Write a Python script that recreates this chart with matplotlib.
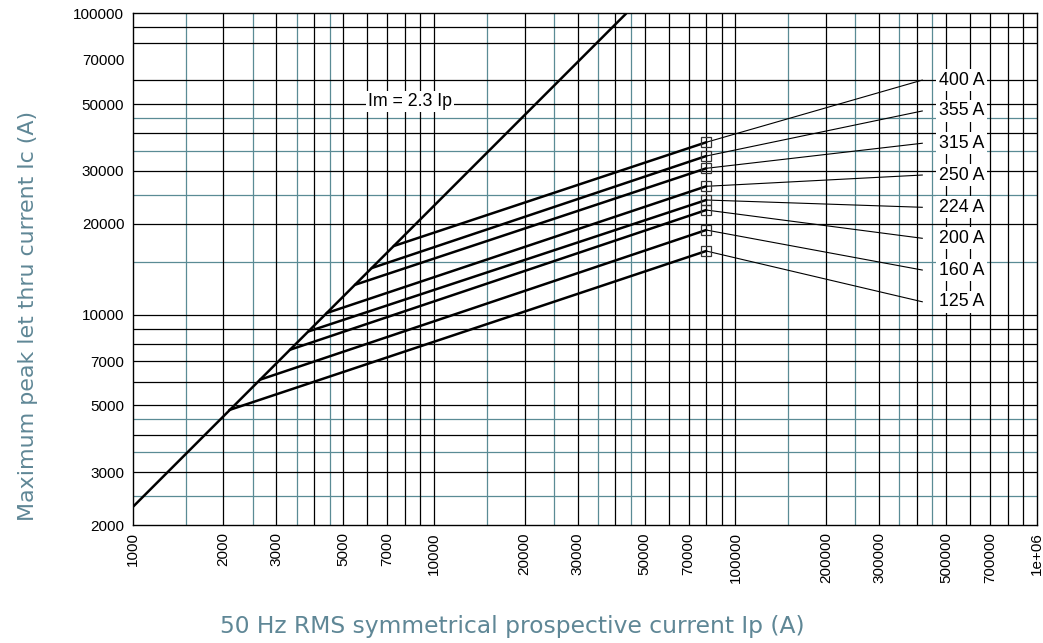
import matplotlib
matplotlib.use('Agg')
import matplotlib.pyplot as plt
from matplotlib.ticker import FixedLocator, FixedFormatter, NullLocator

# ---- data ----
ratings = ['125 A', '160 A', '200 A', '224 A', '250 A', '315 A', '355 A', '400 A']
knee_ip = [2093, 2645, 3327, 3828, 4405, 5467, 6210, 7350]
knee_ic = [4830, 6087, 7653, 8800, 10130, 12570, 14280, 16900]
end_ip = [80000] * 8
end_ic = [16270, 19100, 22250, 24020, 26670, 30600, 33610, 37330]
label_ic = [11040, 14070, 17930, 22720, 29070, 37060, 47420, 60040]
leader_ip = 417000
label_ip = 563000

im_ip = [1000, 43478]
im_ic = [2300, 100000]
im_label = 'Im = 2.3 Ip'
im_label_pos = (8300, 51000)

x_ticks = [1000, 2000, 3000, 5000, 7000, 10000, 20000, 30000, 50000, 70000,
           100000, 200000, 300000, 500000, 700000, 1000000]
x_ticklabels = ['1000', '2000', '3000', '5000', '7000', '10000', '20000', '30000',
                '50000', '70000', '100000', '200000', '300000', '500000', '700000', '1e+06']
y_ticks = [2000, 3000, 5000, 7000, 10000, 20000, 30000, 50000, 70000, 100000]
y_ticklabels = [str(v) for v in y_ticks]

x_grid_black = [2000, 3000, 4000, 5000, 6000, 7000, 8000, 9000, 10000,
                20000, 30000, 40000, 50000, 60000, 70000, 80000, 90000, 100000,
                200000, 300000, 400000, 500000, 600000, 700000, 800000, 900000]
x_grid_teal = [1500, 2500, 3500, 4500, 15000, 25000, 35000, 45000,
               150000, 250000, 350000, 450000]
y_grid_black = [3000, 4000, 5000, 6000, 7000, 8000, 9000, 10000,
                20000, 30000, 40000, 50000, 60000, 80000, 90000]
y_grid_teal = [2500, 3500, 4500, 15000, 25000, 35000, 45000]

xlabel = '50 Hz RMS symmetrical prospective current Ip (A)'
ylabel = 'Maximum peak let thru current Ic (A)'

# ---- style ----
TEAL = '#5a8b95'
LABEL_COL = '#5f8796'
plt.rcParams['font.family'] = ['Liberation Sans', 'DejaVu Sans']

fig = plt.figure(figsize=(10.43, 6.43), dpi=100)
ax = fig.add_axes([0.1272, 0.1829, 0.8668, 0.7964])
ax.set_xscale('log')
ax.set_yscale('log')
ax.set_xlim(1000, 1000000)
ax.set_ylim(2000, 100000)

for v in x_grid_teal:
    ax.axvline(v, color=TEAL, lw=0.9, zorder=1)
for v in y_grid_teal:
    ax.axhline(v, color=TEAL, lw=0.9, zorder=1)
for v in x_grid_black:
    ax.axvline(v, color='black', lw=0.9, zorder=1.1)
for v in y_grid_black:
    ax.axhline(v, color='black', lw=0.9, zorder=1.1)

# Im line
ax.plot(im_ip, im_ic, color='black', lw=1.8, zorder=3, solid_capstyle='butt')
ax.text(im_label_pos[0], im_label_pos[1], im_label, ha='center', va='center',
        fontsize=12.8, zorder=5,
        bbox=dict(facecolor='white', edgecolor='none', pad=1.5))

# fuse curves
for i in range(len(ratings)):
    ax.plot([knee_ip[i], end_ip[i]], [knee_ic[i], end_ic[i]], color='black',
            lw=1.8, zorder=3, solid_capstyle='round')
    ax.plot([end_ip[i], leader_ip], [end_ic[i], label_ic[i]], color='black',
            lw=0.8, zorder=3)
    ax.plot([end_ip[i]], [end_ic[i]], marker='s', ms=6.8, mfc='none',
            mec='#333333', mew=0.9, zorder=4)
    ax.text(label_ip, label_ic[i], ratings[i], ha='center', va='center',
            fontsize=12.8, zorder=5,
            bbox=dict(facecolor='white', edgecolor='none', pad=1.8))

ax.xaxis.set_major_locator(FixedLocator(x_ticks))
ax.xaxis.set_major_formatter(FixedFormatter(x_ticklabels))
ax.xaxis.set_minor_locator(NullLocator())
ax.yaxis.set_major_locator(FixedLocator(y_ticks))
ax.yaxis.set_major_formatter(FixedFormatter(y_ticklabels))
ax.yaxis.set_minor_locator(NullLocator())
ax.tick_params(axis='x', length=0, pad=5, labelsize=11, labelrotation=90)
ax.tick_params(axis='y', length=0, pad=6, labelsize=11)
for s in ax.spines.values():
    s.set_color('black')
    s.set_linewidth(1.0)
    s.set_zorder(6)

fig.text(0.491, 0.026, xlabel, ha='center', va='center', fontsize=16.8,
         color=LABEL_COL, family=['DejaVu Sans'])
fig.text(0.0268, 0.509, ylabel, ha='center', va='center', fontsize=15.9,
         color=LABEL_COL, rotation=90, family=['DejaVu Sans'])

fig.savefig('out.png', dpi=100)
